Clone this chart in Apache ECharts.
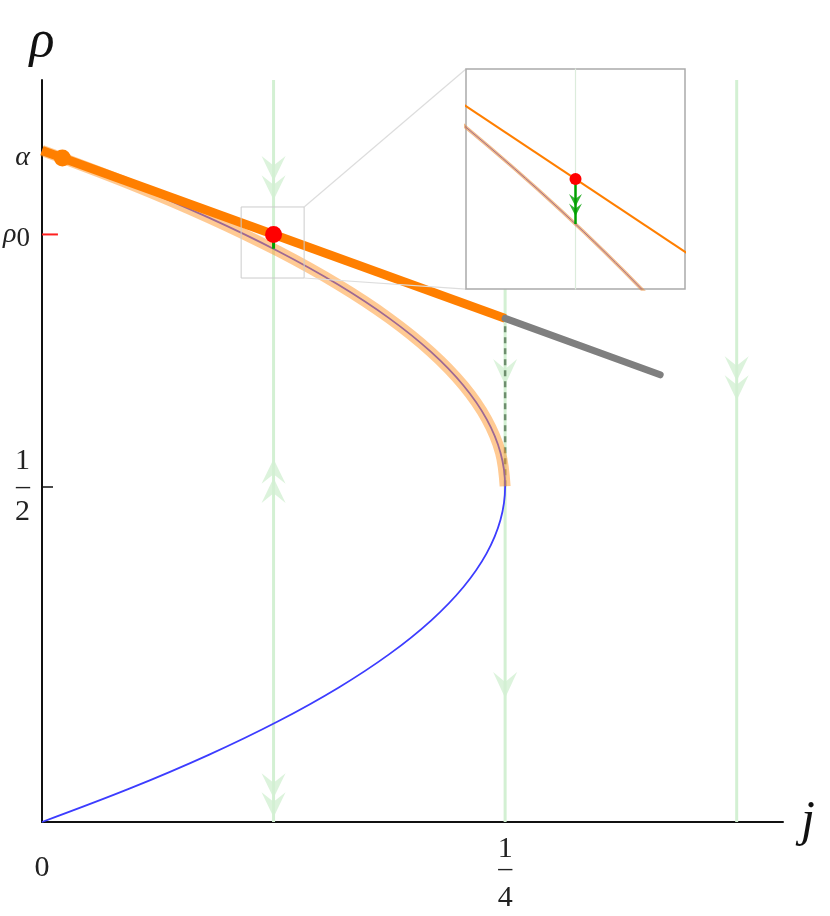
<!DOCTYPE html>
<html>
<head>
<meta charset="utf-8">
<script src="https://cdn.jsdelivr.net/npm/echarts@6/dist/echarts.min.js"></script>
<style>
  html, body { margin: 0; padding: 0; background: #fff; }
  #chart { width: 830px; height: 916px; }
</style>
</head>
<body>
<div id="chart"></div>
<script>
// fundamental diagram j = rho (1 - rho)
const curveRho = [0, 0.05, 0.1, 0.15, 0.2, 0.25, 0.3, 0.35, 0.4, 0.45, 0.5,
                  0.55, 0.6, 0.65, 0.7, 0.75, 0.8, 0.85, 0.9, 0.95, 1.0];
const curveJ   = [0, 0.0475, 0.09, 0.1275, 0.16, 0.1875, 0.21, 0.2275, 0.24, 0.2475, 0.25,
                  0.2475, 0.24, 0.2275, 0.21, 0.1875, 0.16, 0.1275, 0.09, 0.0475, 0];

// finer points for the inset
const insetRho = [0.80, 0.82, 0.84, 0.86, 0.88, 0.90, 0.92, 0.94];
const insetJ   = [0.16, 0.1476, 0.1344, 0.1204, 0.1056, 0.09, 0.0736, 0.0564];

// straight line rho = alpha - j (orange part, then grey part)
const orangeJ = [0, 0.25];
const orangeRho = [1.0, 0.75];
const greyJ = [0.25, 0.3337];
const greyRho = [0.75, 0.666];
const insetLineJ = [0.08, 0.17];
const insetLineRho = [0.92, 0.83];

// characteristics (vertical lines) and their arrows
const verticalJ = [0.125, 0.25, 0.375];
const arrowsDown = [[0.125, 0.959], [0.125, 0.04], [0.375, 0.661]];
const arrowsUp = [[0.125, 0.508]];
const arrowsSingle = [[0.25, 0.67], [0.25, 0.204]];

// points
const rho0 = 0.875;
const redDot = [0.125, 0.875];
const orangeDot = [0.011, 0.989];
const dropEnd = [0.125, 0.8536];
const insetArrow = [0.125, 0.8626];

// zoom box on the main plot, inset ranges
const boxJ = [0.1075, 0.1415];
const boxRho = [0.8101, 0.9159];
const insetJRange = [0.0903, 0.1597];
const insetRhoRange = [0.8226, 0.9274];
const insetCornerJ = 0.2289;
const insetCornerRho = [1.1214, 0.7937];

// ticks
const xTickValues = [0, 0.25];
const xTickLabels = ['0', '1/4'];
const yTickValues = [0.5, 0.875, 0.99];
const yTickLabels = ['1/2', 'ρ0', 'α'];

const serif = '"Liberation Serif", "DejaVu Serif", serif';
const DOUBLE = 'path://M0 0 L12 10 L24 0 L12 26 Z M0 20 L12 30 L24 20 L12 46 Z';
const SINGLE = 'path://M0 0 L12 10 L24 0 L12 26 Z';

const pts = (xs, ys) => xs.map((x, i) => [x, ys[i]]);
const curve = pts(curveJ, curveRho);
const upper = curve.filter(p => p[1] >= 0.5);

function xLabel(value) {
    const s = xTickLabels[xTickValues.indexOf(value)];
    if (s === undefined) return '';
    if (s.includes('/')) {
        const [a, b] = s.split('/');
        return `{xt|${a}}\n{xd|–}\n{xb|${b}}`;
    }
    return `{xe| }\n{xz|${s}}`;
}

function yLabel(value) {
    const s = yTickLabels[yTickValues.indexOf(value)];
    if (s === undefined) return '';
    if (s.includes('/')) {
        const [a, b] = s.split('/');
        return `{yn|${a}}\n{yd|–}\n{yn|${b}}`;
    }
    if (s.length === 2) return `{it|${s[0]}}{sub|${s[1]}}`;
    return `{it|${s}}`;
}

const chart = echarts.init(document.getElementById('chart'));

const line = (data, color, width, extra) => Object.assign({
    type: 'line', data, symbol: 'none', silent: true,
    lineStyle: { color, width, cap: 'butt' }
}, extra || {});

chart.setOption({
    animation: false,
    backgroundColor: '#fff',
    grid: [
        { left: 42, right: 47, top: 80, bottom: 94, outerBoundsMode: 'none' },
        { left: 466, top: 69, width: 219, height: 220, show: true, z: 5,
          backgroundColor: '#fff', borderColor: '#aaa', borderWidth: 1.5, outerBoundsMode: 'none' }
    ],
    xAxis: [{
        type: 'value', min: 0, max: 0.4,
        name: 'j', nameLocation: 'end', nameGap: 18,
        nameTextStyle: { fontFamily: serif, fontStyle: 'italic', fontSize: 50, color: '#111' },
        axisLine: { lineStyle: { color: '#111', width: 2 } },
        axisTick: { customValues: [0.25], inside: true, length: 10, lineStyle: { color: '#111', width: 1.5 } },
        splitLine: { show: false },
        axisLabel: {
            customValues: xTickValues, margin: 15, formatter: xLabel, color: '#222',
            showMinLabel: true, showMaxLabel: true,
            rich: {
                xt: { fontFamily: serif, fontSize: 30, lineHeight: 24, color: '#222' },
                xd: { fontFamily: serif, fontSize: 28, lineHeight: 16, color: '#222' },
                xb: { fontFamily: serif, fontSize: 30, lineHeight: 42, color: '#222' },
                xe: { fontFamily: serif, fontSize: 10, lineHeight: 20 },
                xz: { fontFamily: serif, fontSize: 30, lineHeight: 22, color: '#222' }
            }
        }
    }, {
        type: 'value', gridIndex: 1, min: insetJRange[0], max: insetJRange[1], show: false
    }],
    yAxis: [{
        type: 'value', min: 0, max: 1.105,
        name: 'ρ', nameLocation: 'end', nameGap: 12,
        nameTextStyle: { fontFamily: serif, fontStyle: 'italic', fontSize: 52, color: '#111' },
        axisLine: { show: true, lineStyle: { color: '#111', width: 2 } },
        axisTick: { show: true, customValues: [0.5], inside: true, length: 11, lineStyle: { color: '#111', width: 1.5 } },
        splitLine: { show: false },
        axisLabel: {
            customValues: yTickValues, margin: 12, formatter: yLabel, align: 'right',
            showMinLabel: true, showMaxLabel: true,
            rich: {
                yn: { fontFamily: serif, fontSize: 30, lineHeight: 31, color: '#222' },
                yd: { fontFamily: serif, fontSize: 28, lineHeight: 20, color: '#222' },
                it: { fontFamily: serif, fontStyle: 'italic', fontSize: 28, color: '#222' },
                sub: { fontFamily: serif, fontSize: 27, color: '#222', padding: [8, 0, 0, 0] }
            }
        }
    }, {
        type: 'value', gridIndex: 1, min: insetRhoRange[0], max: insetRhoRange[1], show: false
    }],
    series: [
        // characteristics
        ...verticalJ.map(j => line([[j, 0], [j, 1.105]], '#d3f0d3', 3)),
        { type: 'scatter', data: arrowsDown, symbol: DOUBLE, symbolSize: [24, 44], symbolRotate: 0,
          itemStyle: { color: '#d3f0d3' }, silent: true },
        { type: 'scatter', data: arrowsUp, symbol: DOUBLE, symbolSize: [24, 44], symbolRotate: 180,
          itemStyle: { color: '#d3f0d3' }, silent: true },
        { type: 'scatter', data: arrowsSingle, symbol: SINGLE, symbolSize: [24, 26],
          itemStyle: { color: '#d3f0d3' }, silent: true },
        line([[0.25, 0.5], [0.25, 0.75]], '#6e8e6e', 2.5, { lineStyle: { color: '#6e8e6e', width: 2.5, type: [6, 5] } }),
        // fundamental diagram with highlighted upper branch
        line(curve, '#3c3cff', 1.8, { smooth: 0.35 }),
        line(upper, 'rgba(255,150,40,0.5)', 11, { smooth: 0.35 }),
        // rho = alpha - j
        line(pts(orangeJ, orangeRho), '#ff7f00', 9),
        line(pts(greyJ, greyRho), '#7f7f7f', 7, { lineStyle: { color: '#7f7f7f', width: 7, cap: 'round' } }),
        // drop from the red point
        line([redDot, dropEnd], '#00a000', 3),
        // red tick for rho0
        line([[0, rho0], [0.0086, rho0]], '#ff2020', 2),
        // zoom box and connectors
        line([[boxJ[0], boxRho[0]], [boxJ[1], boxRho[0]], [boxJ[1], boxRho[1]], [boxJ[0], boxRho[1]], [boxJ[0], boxRho[0]]],
             '#cccccc', 1),
        line([[boxJ[1], boxRho[1]], [insetCornerJ, insetCornerRho[0]]], '#dddddd', 1.2, { clip: false }),
        line([[boxJ[1], boxRho[0]], [insetCornerJ, insetCornerRho[1]]], '#dddddd', 1.2, { clip: false }),
        { type: 'scatter', z: 4, data: [orangeDot], symbolSize: 17, itemStyle: { color: '#ff8000', opacity: 1 }, silent: true },
        { type: 'scatter', z: 4, data: [redDot], symbolSize: 17, itemStyle: { color: '#ff0000', opacity: 1 }, silent: true },
        // inset
        line([[0.125, 0.8], [0.125, 0.95]], '#dcecdc', 1.2, { xAxisIndex: 1, yAxisIndex: 1, z: 6 }),
        line(pts(insetLineJ, insetLineRho), '#ff7f00', 2, { xAxisIndex: 1, yAxisIndex: 1, z: 6 }),
        line(pts(insetJ, insetRho), '#3c3cff', 1, { xAxisIndex: 1, yAxisIndex: 1, z: 6, smooth: 0.3 }),
        line(pts(insetJ, insetRho), 'rgba(230,140,60,0.6)', 3.5, { xAxisIndex: 1, yAxisIndex: 1, z: 6, smooth: 0.3 }),
        line([redDot, dropEnd], '#00a000', 2.5, { xAxisIndex: 1, yAxisIndex: 1, z: 6 }),
        { type: 'scatter', xAxisIndex: 1, yAxisIndex: 1, z: 6, data: [insetArrow], symbol: DOUBLE,
          symbolSize: [13, 22], itemStyle: { color: '#00a000' }, silent: true },
        { type: 'scatter', xAxisIndex: 1, yAxisIndex: 1, z: 7, data: [redDot], symbolSize: 12,
          itemStyle: { color: '#ff0000', opacity: 1 }, silent: true }
    ]
});
</script>
</body>
</html>
